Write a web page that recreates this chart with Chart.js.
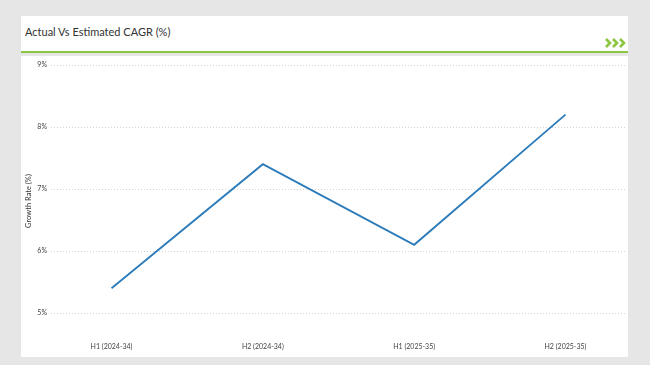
<!DOCTYPE html>
<html>
<head>
<meta charset="utf-8">
<script src="https://cdn.jsdelivr.net/npm/chart.js@4.4.1/dist/chart.umd.min.js"></script>
<style>
  html, body { margin: 0; padding: 0; background: #e6e6e6; width: 650px; height: 365px; overflow: hidden; }
  #header { position: absolute; left: 21px; top: 16px; width: 607px; height: 35px; background: #fff; }
  #title { position: absolute; left: 4px; top: 9px; font-family: Lato, "Open Sans", sans-serif; font-size: 11px; color: #333; }
  #greenline { position: absolute; left: 21px; top: 51px; width: 607px; height: 2px; background: #8cc540; }
  #chev { position: absolute; left: 605px; top: 38px; }
  #panel { position: absolute; left: 21px; top: 56px; width: 607px; height: 301px; background: #fff; }
</style>
</head>
<body>
<div id="header"><div id="title">Actual Vs Estimated CAGR (%)</div></div>
<svg id="chev" width="24" height="10" viewBox="0 0 24 10">
  <polyline points="1,1 5,5 1,9" fill="none" stroke="#8cc540" stroke-width="2.6"/>
  <polyline points="8,1 12,5 8,9" fill="none" stroke="#8cc540" stroke-width="2.6"/>
  <polyline points="15,1 19,5 15,9" fill="none" stroke="#8cc540" stroke-width="2.6"/>
</svg>
<div id="greenline"></div>
<div id="panel"><canvas id="c" width="607" height="301"></canvas></div>
<script>
const categories = ["H1 (2024-34)", "H2 (2024-34)", "H1 (2025-35)", "H2 (2025-35)"];
const growthRate = [5.4, 7.4, 6.1, 8.2];
const yTicks = [5, 6, 7, 8, 9];
const yAxisTitle = "Growth Rate (%)";

const points = growthRate.map((v, i) => ({ x: i, y: v }));
const fontFam = 'Lato, "Open Sans", sans-serif';

const axisTitlePlugin = {
  id: 'axisTitle',
  afterDraw(chart) {
    const ctx = chart.ctx;
    ctx.save();
    ctx.translate(8, 145);
    ctx.rotate(-Math.PI / 2);
    ctx.font = '7.5px ' + fontFam;
    ctx.fillStyle = '#333';
    ctx.textAlign = 'center';
    ctx.textBaseline = 'middle';
    ctx.fillText(yAxisTitle, 0, 0);
    ctx.restore();
  }
};

new Chart(document.getElementById('c'), {
  type: 'line',
  data: {
    datasets: [{
      data: points,
      borderColor: '#2b7bba',
      borderWidth: 1.8,
      pointRadius: 0,
      tension: 0,
      fill: false
    }]
  },
  plugins: [axisTitlePlugin],
  options: {
    responsive: false,
    animation: false,
    layout: { padding: { top: 9, right: 2, left: 0, bottom: 0 } },
    plugins: { legend: { display: false }, tooltip: { enabled: false } },
    scales: {
      x: {
        type: 'linear',
        min: -0.4,
        max: categories.length - 0.6,
        afterBuildTicks: s => { s.ticks = categories.map((c, i) => ({ value: i })); },
        afterFit: s => { s.height = 44; },
        ticks: {
          callback: v => categories[v],
          font: { family: fontFam, size: 7 },
          color: '#444',
          padding: 30,
          maxRotation: 0,
          autoSkip: false
        },
        grid: { display: false, drawTicks: false },
        border: { display: false }
      },
      y: {
        min: yTicks[0],
        max: yTicks[yTicks.length - 1],
        afterBuildTicks: s => { s.ticks = yTicks.map(v => ({ value: v })); },
        afterFit: s => { s.width = 30; },
        ticks: {
          callback: v => v + '%',
          font: { family: fontFam, size: 7 },
          color: '#444',
          padding: 4
        },
        grid: { color: '#d4d4d4', lineWidth: 1, drawTicks: false },
        border: { display: false, dash: [1, 2] }
      }
    }
  }
});
</script>
</body>
</html>
